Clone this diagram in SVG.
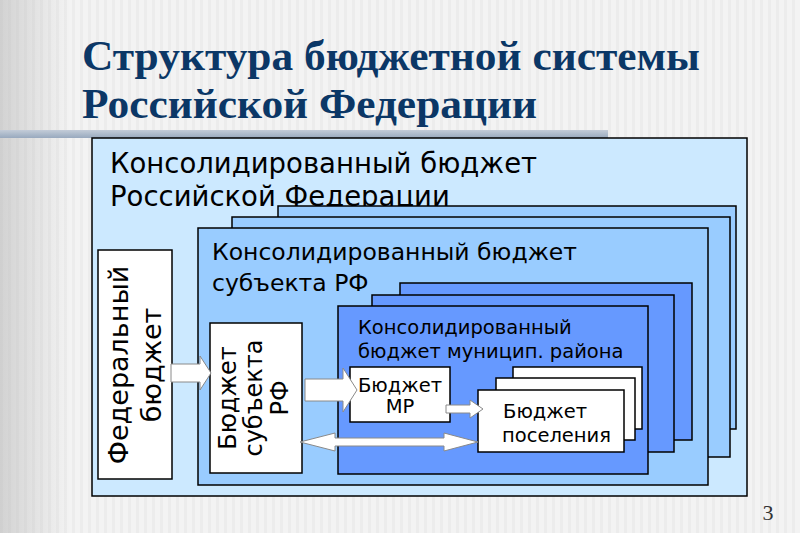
<svg xmlns="http://www.w3.org/2000/svg" width="800" height="533" viewBox="0 0 800 533">
  <defs>
    <pattern id="stripes" x="0" y="0" width="8" height="10" patternUnits="userSpaceOnUse">
      <rect x="0" y="0" width="8" height="10" fill="#F3F3F3"/>
      <rect x="0" y="0" width="3" height="10" fill="#ECECEC"/>
    </pattern>
    <linearGradient id="leftShade" x1="0" y1="0" x2="1" y2="0">
      <stop offset="0" stop-color="#B8B8B8" stop-opacity="0.55"/>
      <stop offset="1" stop-color="#B8B8B8" stop-opacity="0"/>
    </linearGradient>
    <linearGradient id="band" x1="0" y1="0" x2="0" y2="1">
      <stop offset="0" stop-color="#C3CCD8"/>
      <stop offset="1" stop-color="#98A9BE"/>
    </linearGradient>
  </defs>
  <style>
    .box { stroke: #000; stroke-width: 1.5; }
    .lvl0 { fill: #CCE9FF; }
    .lvl1 { fill: #99CCFF; }
    .lvl2 { fill: #6699FF; }
    .white { fill: #FFFFFF; }
    .arrow { fill: #FFFFFF; stroke: #8A8A8A; stroke-width: 1; stroke-linejoin: miter; }
    .title { font-family: "Liberation Serif", "Times New Roman", serif; font-weight: bold; font-size: 43px; fill: #0B3766; }
    .t { font-family: "DejaVu Sans", Verdana, sans-serif; fill: #000; }
  </style>

  <!-- background -->
  <rect x="0" y="0" width="800" height="533" fill="url(#stripes)"/>
  <rect x="0" y="0" width="70" height="533" fill="url(#leftShade)"/>
  <rect x="0" y="130" width="608" height="8" fill="url(#band)"/>

  <!-- title -->
  <text class="title" x="82" y="70" textLength="618" lengthAdjust="spacingAndGlyphs">Структура бюджетной системы</text>
  <text class="title" x="82" y="118" textLength="455" lengthAdjust="spacingAndGlyphs">Российской Федерации</text>

  <!-- consolidated budget of RF -->
  <g id="rf-consolidated">
    <rect class="box lvl0" x="92" y="138" width="655" height="358"/>
    <text class="t" x="110" y="173" font-size="27.5">Консолидированный бюджет</text>
    <text class="t" x="110" y="206" font-size="27.5">Российской Федерации</text>
  </g>

  <!-- federal budget -->
  <g id="federal-budget">
    <rect class="box white" x="98" y="250" width="74" height="229"/>
    <text class="t" font-size="27" text-anchor="middle" transform="translate(128,365) rotate(-90)">Федеральный</text>
    <text class="t" font-size="27" text-anchor="middle" transform="translate(161,365) rotate(-90)">бюджет</text>
  </g>

  <!-- consolidated budget of subject stack -->
  <g id="subject-consolidated">
    <rect class="box lvl1" x="278" y="206" width="458" height="223"/>
    <rect class="box lvl1" x="232" y="217" width="498" height="240"/>
    <rect class="box lvl1" x="198" y="228" width="510" height="257"/>
    <text class="t" x="212" y="260" font-size="23.5">Консолидированный бюджет</text>
    <text class="t" x="212" y="291" font-size="23.5">субъекта РФ</text>
  </g>

  <!-- subject budget -->
  <g id="subject-budget">
    <rect class="box white" x="210" y="323" width="92" height="150"/>
    <text class="t" font-size="24" text-anchor="middle" transform="translate(236,398) rotate(-90)">Бюджет</text>
    <text class="t" font-size="24" text-anchor="middle" transform="translate(262,398) rotate(-90)">субъекта</text>
    <text class="t" font-size="24" text-anchor="middle" transform="translate(288,398) rotate(-90)">РФ</text>
  </g>

  <!-- consolidated budget of municipal district stack -->
  <g id="municipal-consolidated">
    <rect class="box lvl2" x="400" y="283" width="292" height="157"/>
    <rect class="box lvl2" x="372" y="295" width="302" height="157"/>
    <rect class="box lvl2" x="338" y="306" width="310" height="168"/>
    <text class="t" x="358" y="334" font-size="19.5">Консолидированный</text>
    <text class="t" x="358" y="358" font-size="19.5">бюджет муницип. района</text>
  </g>

  <!-- MR budget -->
  <g id="mr-budget">
    <rect class="box white" x="350" y="367" width="100" height="55"/>
    <text class="t" x="400" y="392" font-size="19.5" text-anchor="middle">Бюджет</text>
    <text class="t" x="400" y="413" font-size="19.5" text-anchor="middle">МР</text>
  </g>

  <!-- settlement budgets stack -->
  <g id="settlement-budget">
    <rect class="box white" x="513" y="367" width="129" height="62"/>
    <rect class="box white" x="496" y="378" width="139" height="62"/>
    <rect class="box white" x="478" y="390" width="146" height="62"/>
    <text class="t" x="503" y="418" font-size="19.5">Бюджет</text>
    <text class="t" x="502" y="442" font-size="19.5">поселения</text>
  </g>

  <!-- connectors -->
  <g id="connectors">
    <path class="arrow" d="M171,364 H200 V356 L211,373 L200,390 V382 H171 Z"/>
    <path class="arrow" d="M305,379 H343 V368 L357,390 L343,412 V401 H305 Z"/>
    <path class="arrow" d="M446,405 H470 V400 L483,409 L470,418 V413 H446 Z"/>
    <path class="arrow" d="M300,442 L335,433 V438 H444 V433 L478,442 L444,451 V446 H335 V451 Z"/>
  </g>

  <!-- page number -->
  <text x="768" y="520" font-family="Liberation Serif, serif" font-size="22" fill="#333" text-anchor="middle">3</text>
</svg>
